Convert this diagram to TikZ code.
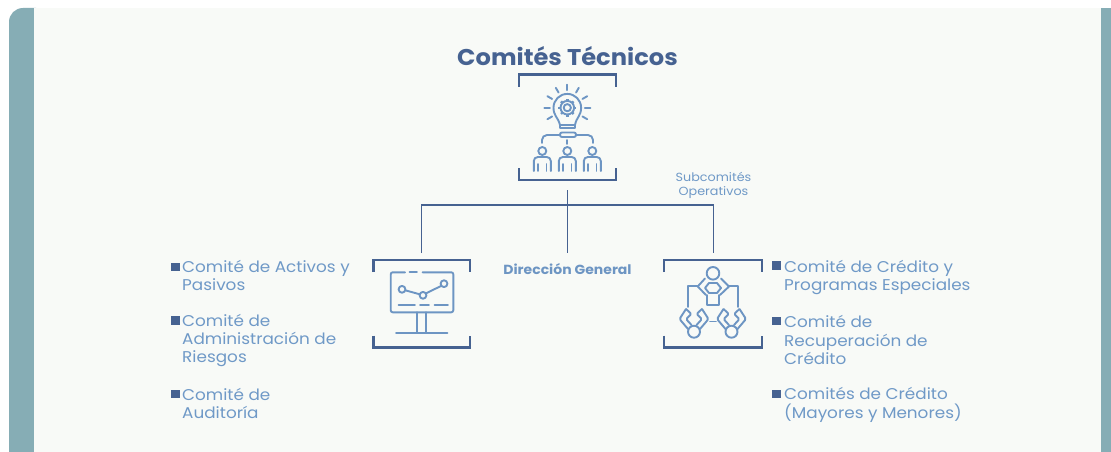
\documentclass[tikz,border=0pt]{standalone}
\usepackage{fontspec}
\setmainfont{Poppins}
\newfontfamily\listfont[FakeStretch=1.08]{Poppins}
\newfontfamily\boldwide[FakeStretch=1.06,BoldFont={Poppins Bold}]{Poppins}
\definecolor{tealbar}{HTML}{86ADB5}
\definecolor{panel}{HTML}{F8FAF7}
\definecolor{navy}{HTML}{466291}
\definecolor{lightblue}{HTML}{6F99C7}
\definecolor{iconblue}{HTML}{6D95C3}
\newcommand{\frameicon}[4]{%
 \draw[framed] (#1,#2+12) -- (#1,#2) -- (#3,#2) -- (#3,#2+12);
 \draw[framed] (#1,#4-12) -- (#1,#4) -- (#3,#4) -- (#3,#4-12);}
\newcommand{\personbody}[1]{%
 \draw[icon] (#1-8.5,171) -- (#1-8.5,161) arc[start angle=180,end angle=270,radius=4] -- (#1+4.5,157) arc[start angle=270,end angle=360,radius=4] -- (#1+8.5,171);
 \draw[icon] (#1-4.2,164) -- (#1-4.2,171) (#1+4.2,164) -- (#1+4.2,171);
 \draw[icon] (#1,151) circle[radius=4];}
\newcommand{\sitter}[1]{%
 \draw[icon,rounded corners=1.5pt] (#1-8,309) -- (#1-14.5,319) -- (#1-6,329) (#1-8,309) -- (#1-2.5,314) -- (#1-8,319) -- (#1-2.5,325);
 \draw[icon,rounded corners=1.5pt] (#1+8,309) -- (#1+14.5,319) -- (#1+6,329) (#1+8,309) -- (#1+2.5,314) -- (#1+8,319) -- (#1+2.5,325);
 \draw[icon] (#1,331.7) circle[radius=6];}
\tikzset{
 framed/.style={draw=navy,line width=2.3pt},
 icon/.style={draw=iconblue,line width=1.9pt,line cap=round,line join=round},
 conn/.style={draw=navy,line width=1.2pt},
 listitem/.style={anchor=west,align=left,text=lightblue,font=\listfont\fontsize{15.6}{18.3}\selectfont,inner sep=0pt},
 sq/.style={fill=navy,draw=none,minimum size=8.5pt,inner sep=0pt},
}
\begin{document}
\begin{tikzpicture}[x=1pt,y=-1pt]
\useasboundingbox (0,0) rectangle (1111,452);
\fill[white] (0,0) rectangle (1111,452);
\fill[tealbar] (9,452) -- (9,22) arc[start angle=180,end angle=270,radius=14] -- (36,8) -- (36,452) -- cycle;
\fill[tealbar] (1100,8) rectangle (1111,452);
\fill[panel] (34,8) rectangle (1101,452);

\node[text=navy,font=\boldwide\fontsize{22.8}{26}\bfseries\selectfont,inner sep=0pt] (title) at (567.5,56.5) {Comités Técnicos};

% top icon
\frameicon{519}{74.5}{616}{180}
\draw[icon] (567.3,107.7) circle[radius=3.6];
\foreach \a in {0,45,...,315}{
 \draw[icon,line width=2.4pt,line cap=butt] (567.3,107.7) ++(\a:6.5) -- ++(\a:2.4);}
\draw[icon] (567.3,107.7) circle[radius=6.8];
\draw[icon] (560,125) .. controls (558,117) and (553.5,116) .. (553.5,107.7)
  arc[start angle=180,end angle=360,radius=13.8] .. controls (581.1,116) and (576.5,117) .. (575,125) -- (575,128) -- (560,128) -- cycle;
\draw[icon] (560,125) -- (575,125);
\foreach \a in {0,30,60,90,120,150,180,210,330}{
 \draw[icon] (567.3,107.7) ++(-\a:17.5) -- ++(-\a:5.5);}
\draw[icon,rounded corners=2pt] (560,132.5) rectangle (576,137);
\draw[icon] (559,135) -- (547,135) arc[start angle=270,end angle=180,radius=5] -- (542,143);
\draw[icon] (576,135) -- (588,135) arc[start angle=270,end angle=360,radius=5] -- (593,143);
\draw[icon] (567.3,140) -- (567.3,144);
\personbody{542.3}\personbody{567.3}\personbody{592.3}

% tree
\coordinate (root) at (567.5,190);
\coordinate (junction) at (567.5,205);
\coordinate (leftend) at (421.5,253);
\coordinate (midend) at (567.5,253);
\coordinate (rightend) at (713.5,253);
\draw[conn] (root) -- (midend);
\draw[conn] (leftend) |- (junction) -| (rightend);

\node[text=lightblue,align=center,font=\listfont\fontsize{11.8}{14}\selectfont,inner sep=0pt] (sub) at (713.5,185) {Subcomités\\Operativos};
\node[text=iconblue,font=\boldwide\fontsize{13.2}{15}\bfseries\selectfont,inner sep=0pt] (dg) at (567.5,269) {Dirección General};

% left icon
\frameicon{373.5}{260}{470}{347.5}
\draw[icon,rounded corners=2pt] (405,272.3) -- (390.7,272.3) -- (390.7,312.3) -- (453.3,312.3) -- (453.3,272.3) -- (422.5,272.3);
\draw[icon] (409.5,272.3) -- (417,272.3);
\draw[icon] (398.5,305) -- (415,305) (420,305) -- (429,305) (434.5,305) -- (448,305);
\draw[icon] (405.3,290.3) -- (419.8,294.3) (426,293.3) -- (441,286);
\draw[icon] (402,289.3) circle[radius=3.4];
\draw[icon] (423,295.3) circle[radius=3.4];
\draw[icon] (444,283.7) circle[radius=3.4];
\draw[icon] (417.3,312.3) -- (417.3,332.7) (426,312.3) -- (426,332.7);
\draw[icon] (396,332.7) -- (447.3,332.7);

% right icon
\frameicon{664}{260}{762}{347.5}
\draw[icon] (713,273.3) circle[radius=6.3];
\draw[icon] (697.5,286) -- (688.3,286) -- (688.3,307);
\draw[icon] (728.5,286) -- (737.7,286) -- (737.7,307);
\draw[icon] (705,278.5) -- (697.7,286.5) -- (706,295) (721,278.5) -- (729,286.5) -- (720,295);
\draw[icon] (709,283) -- (717,283) -- (721,288) -- (717,293) -- (709,293) -- (705,288) -- cycle;
\draw[icon] (706.7,295) -- (706.7,305) -- (719.3,305) -- (719.3,295);
\sitter{694}\sitter{731.5}
\draw[icon] (710,321.5) -- (716,321.5);

% lists
\node[sq] (sa) at (175.5,267) {};
\node[listitem] (a) at (182,275.5) {Comité de Activos y\\Pasivos};
\node[sq] (sb) at (175.5,320.5) {};
\node[listitem] (b) at (182,340.5) {Comité de\\Administración de\\Riesgos};
\node[sq] (sc) at (175.5,394) {};
\node[listitem] (c) at (182,403.5) {Comité de\\Auditoría};
\node[sq] (sd) at (776.5,265.5) {};
\node[listitem] (d) at (784,277.5) {Comité de Crédito y\\Programas Especiales};
\node[sq] (se) at (776.5,321) {};
\node[listitem] (e) at (784,340) {Comité de\\Recuperación de\\Crédito};
\node[sq] (sf) at (776.5,394) {};
\node[listitem] (f) at (784,405) {Comités de Crédito\\(Mayores y Menores)};
\end{tikzpicture}
\end{document}
